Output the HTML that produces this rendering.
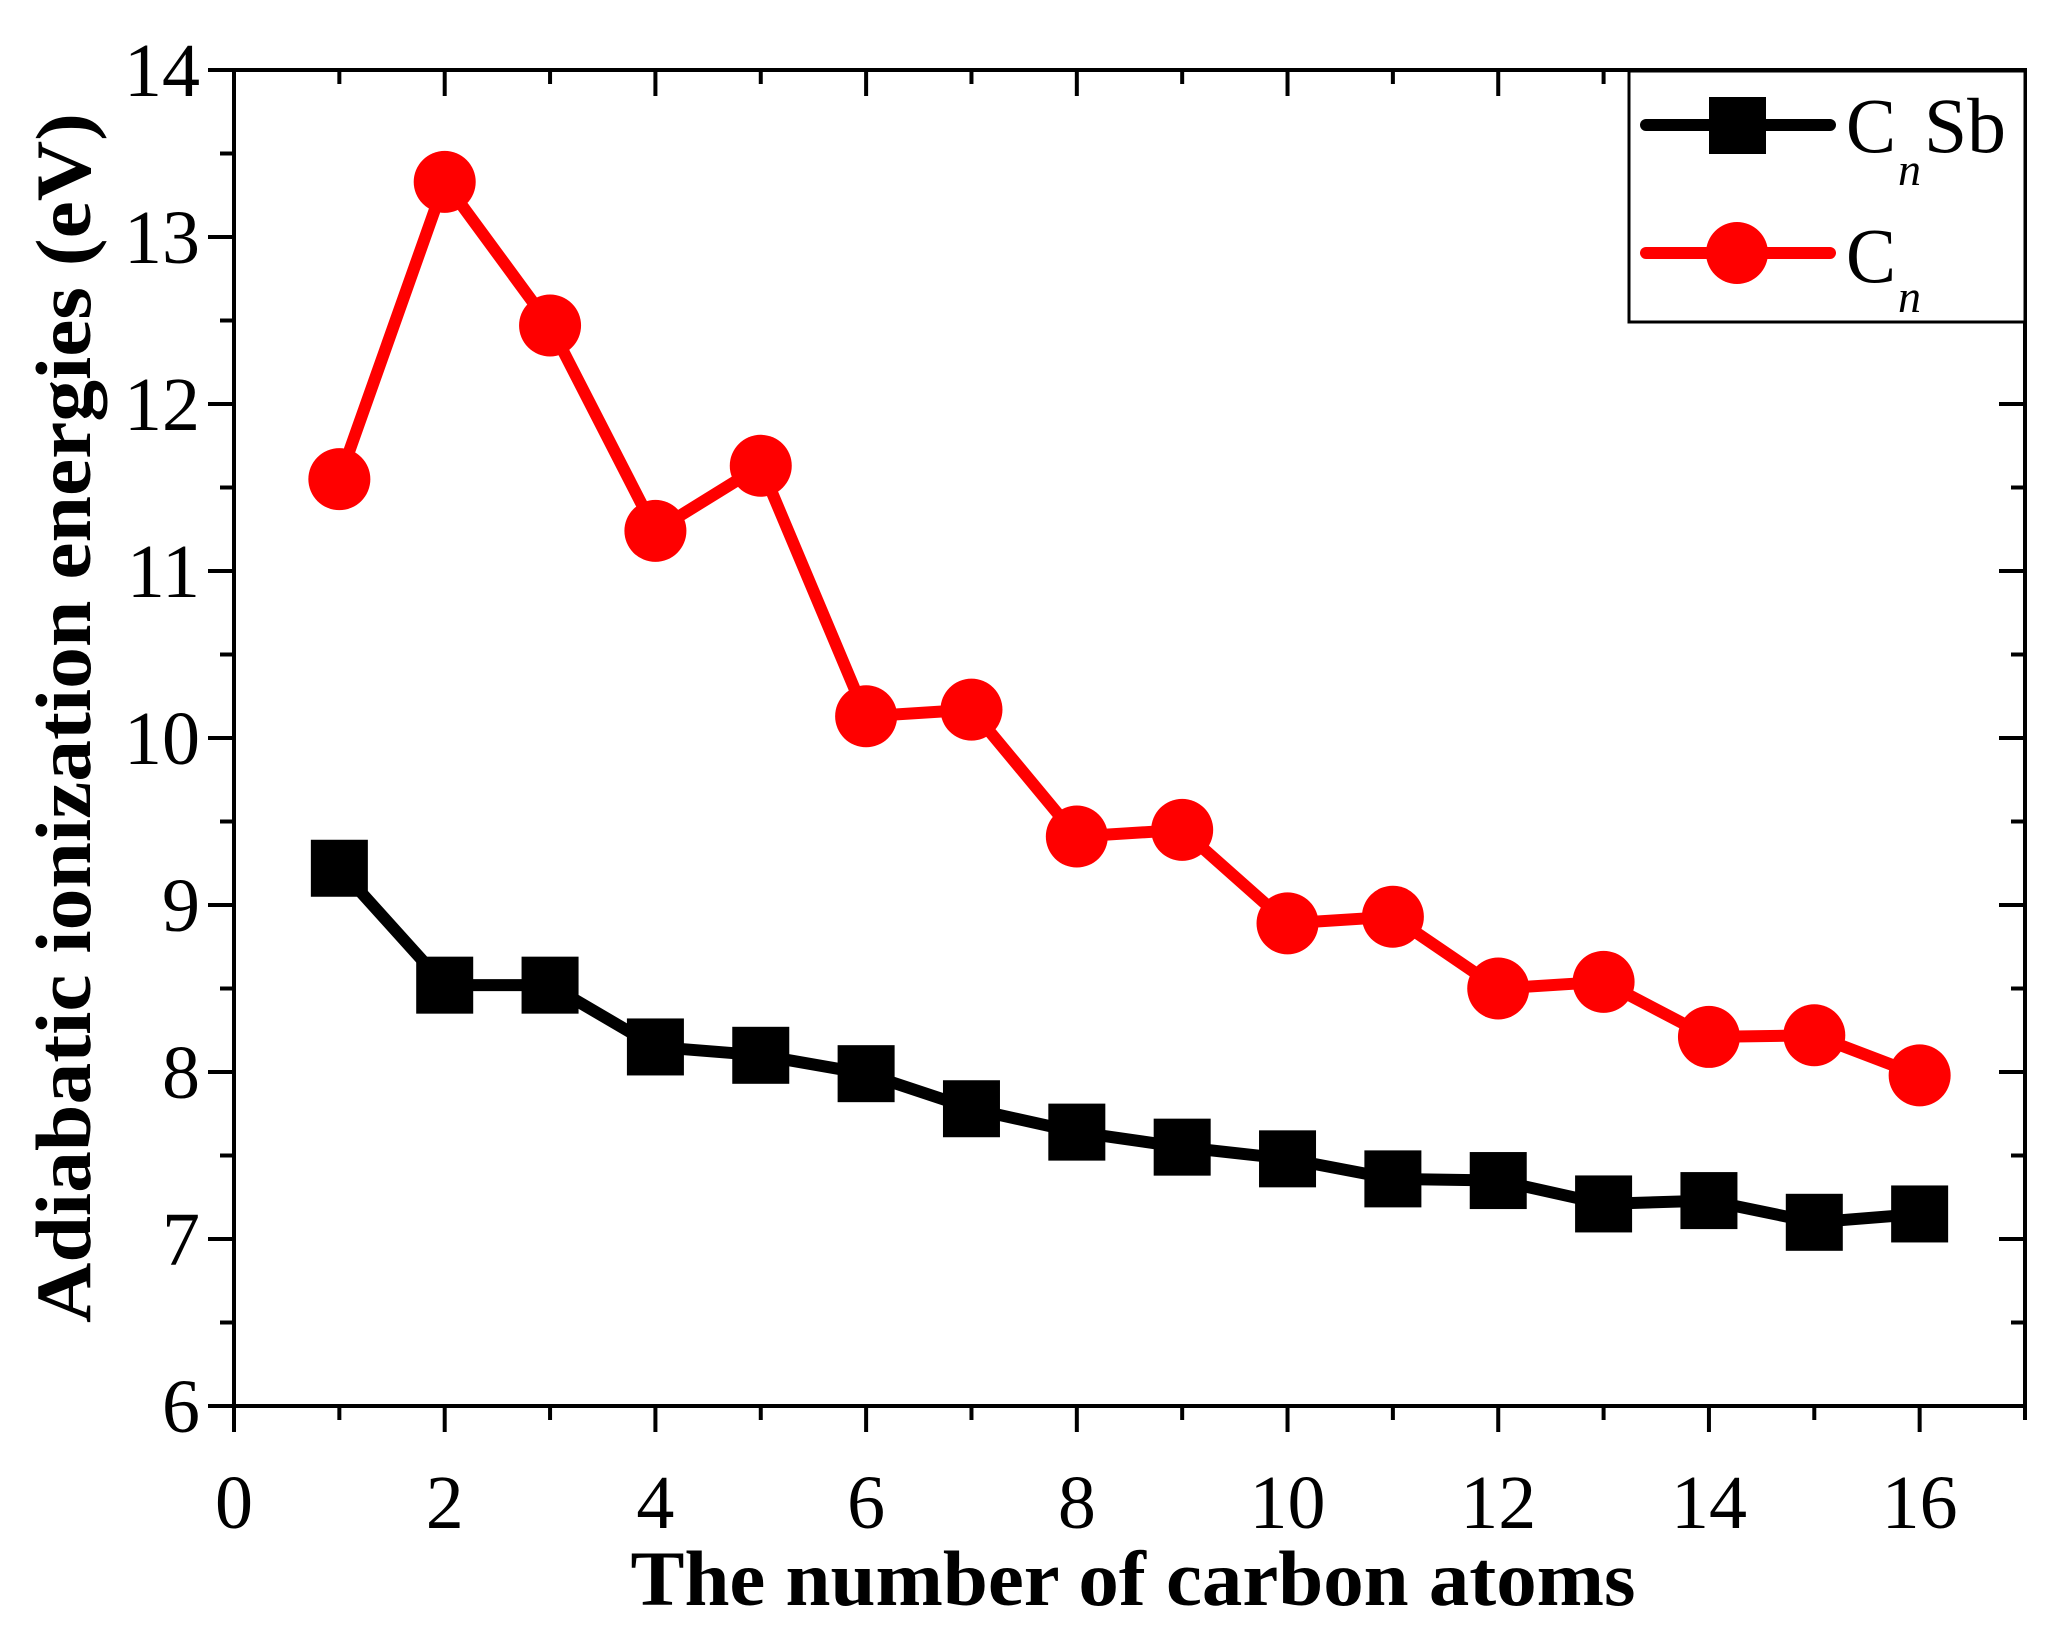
<!DOCTYPE html>
<html><head><meta charset="utf-8"><style>
html,body{margin:0;padding:0;background:#fff;}
svg{display:block;}
text{font-family:"Liberation Serif",serif;}
</style></head><body>
<svg id="chart" width="2056" height="1628" viewBox="0 0 2056 1628" xmlns="http://www.w3.org/2000/svg">
<g id="axes"></g>
<g id="series"></g>
<text x="1133" y="1605" text-anchor="middle" font-weight="bold" font-size="78" textLength="1005" lengthAdjust="spacingAndGlyphs">The number of carbon atoms</text>
<text transform="translate(90,718) rotate(-90)" text-anchor="middle" font-weight="bold" font-size="78" textLength="1210" lengthAdjust="spacingAndGlyphs">Adiabatic ionization energies (eV)</text>
<g>
<rect x="1629" y="71" width="396" height="251" fill="#fff" stroke="#000" stroke-width="3"/>
<g>
<line x1="1646" y1="125" x2="1830" y2="125" stroke="#000" stroke-width="12" stroke-linecap="round"/>
<rect x="1709" y="97" width="57" height="57" fill="#000"/>
<text x="1846" y="152" font-size="78" textLength="50" lengthAdjust="spacingAndGlyphs">C</text>
<text x="1898" y="185" font-size="46" font-style="italic">n</text>
<text x="1924" y="152" font-size="78" textLength="82" lengthAdjust="spacingAndGlyphs">Sb</text>
</g>
<g>
<line x1="1646" y1="253" x2="1830" y2="253" stroke="#f00" stroke-width="12" stroke-linecap="round"/>
<circle cx="1737" cy="253" r="31" fill="#f00"/>
<text x="1846" y="282" font-size="78" textLength="50" lengthAdjust="spacingAndGlyphs">C</text>
<text x="1898" y="312" font-size="46" font-style="italic">n</text>
</g>
</g>
</svg>
<script>
const xCategories = [1,2,3,4,5,6,7,8,9,10,11,12,13,14,15,16];
const cnsbValues = [9.22,8.52,8.52,8.15,8.10,7.99,7.78,7.64,7.55,7.48,7.36,7.35,7.21,7.23,7.10,7.15];
const cnValues = [11.55,13.33,12.47,11.24,11.63,10.13,10.17,9.41,9.45,8.89,8.93,8.50,8.54,8.21,8.22,7.98];
const xTickLabels = [0,2,4,6,8,10,12,14,16];
const yTickLabels = [6,7,8,9,10,11,12,13,14];

const X0=234, XR=2025, XMIN=0, XMAX=17;
const YB=1406, YT=70, YMIN=6, YMAX=14;
function sx(v){return X0+(v-XMIN)/(XMAX-XMIN)*(XR-X0);}
function sy(v){return YB-(v-YMIN)/(YMAX-YMIN)*(YB-YT);}
const NS="http://www.w3.org/2000/svg";
function mk(tag,attrs,parent){const e=document.createElementNS(NS,tag);for(const k in attrs)e.setAttribute(k,attrs[k]);parent.appendChild(e);return e;}
const axes=document.getElementById('axes');
const frame=mk('rect',{x:X0,y:YT,width:XR-X0,height:YB-YT,fill:'none',stroke:'#000','stroke-width':4},axes);


for(let v=XMIN;v<=XMAX;v++){
  const major=v%2===0, L=major?26:14, x=sx(v);
  const t=mk('line',{x1:x,y1:YB,x2:x,y2:YB+L,stroke:'#000','stroke-width':4},axes);
  
  
  const t2=mk('line',{x1:x,y1:YT,x2:x,y2:YT+L,stroke:'#000','stroke-width':4},axes);
  
  
}
xTickLabels.forEach(v=>{
  const t=mk('text',{x:sx(v),y:1528,'text-anchor':'middle','font-size':76},axes);
  t.textContent=v;
  
  
});
for(let v=YMIN;v<=YMAX;v+=0.5){
  const major=Math.abs(v-Math.round(v))<1e-6, L=major?26:14, y=sy(v);
  const t=mk('line',{x1:X0-L,y1:y,x2:X0,y2:y,stroke:'#000','stroke-width':4},axes);
  
  
  const t2=mk('line',{x1:XR-L,y1:y,x2:XR,y2:y,stroke:'#000','stroke-width':4},axes);
  
  
}
yTickLabels.forEach(v=>{
  const t=mk('text',{x:200,y:sy(v)+26,'text-anchor':'end','font-size':76},axes);
  t.textContent=v;
  
  
});
const series=document.getElementById('series');
function drawSeries(vals,color,shape,name){
  const g=mk('g',{},series);
  
  
  const pts=xCategories.map((c,i)=>sx(c)+','+sy(vals[i])).join(' ');
  const pl=mk('polyline',{points:pts,fill:'none',stroke:color,'stroke-width':12,'stroke-linejoin':'round'},g);
  
  
  xCategories.forEach((c,i)=>{
    let m;
    if(shape==='square') m=mk('rect',{x:sx(c)-28.5,y:sy(vals[i])-28.5,width:57,height:57,fill:color},g);
    else m=mk('circle',{cx:sx(c),cy:sy(vals[i]),r:31,fill:color},g);
    
    
  });
}
drawSeries(cnsbValues,'#000','square','series-cnsb');
drawSeries(cnValues,'#f00','circle','series-cn');
</script>
</body></html>
